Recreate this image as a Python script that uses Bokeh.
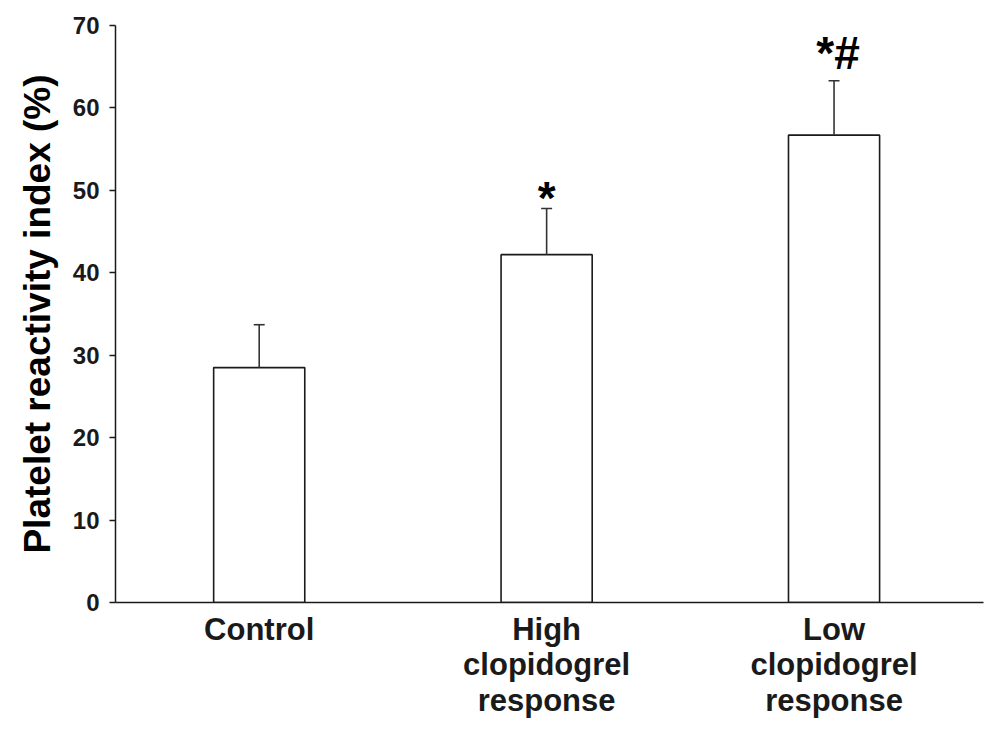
from bokeh.plotting import figure
from bokeh.models import FixedTicker, Range1d, ColumnDataSource
from bokeh.core.properties import value
from bokeh.embed import file_html
from bokeh.resources import INLINE

categories = ["Control", "High\nclopidogrel\nresponse", "Low\nclopidogrel\nresponse"]
means = [28.5, 42.2, 56.7]
sd_upper = [5.2, 5.6, 6.6]
marks = ["", "*", "*#"]
y_ticks = [0, 10, 20, 30, 40, 50, 60, 70]

xs = [1, 2, 3]
tops = [m + s for m, s in zip(means, sd_upper)]

FONT = "Liberation Sans"

p = figure(width=984, height=735, output_backend="svg", toolbar_location=None,
           x_range=Range1d(0.5, 3.52), y_range=Range1d(0, 70),
           min_border_left=115, min_border_top=25, min_border_right=1,
           min_border_bottom=133)
p.outline_line_color = None
p.grid.grid_line_color = None
p.background_fill_color = "white"

src = ColumnDataSource(dict(x=xs, top=means, etop=tops))
p.vbar(x="x", top="top", bottom=0, width=0.317, source=src,
       fill_color="white", line_color="#1a1a1a", line_width=1.6)
p.segment(x0="x", y0="top", x1="x", y1="etop", source=src,
          line_color="#333333", line_width=1.6)
p.scatter(x="x", y="etop", source=src, marker="dash", size=11,
          line_color="#333333", line_width=1.6)

# significance marks
p.text(x=[2], y=[tops[1]], text=[marks[1]], text_font=value(FONT),
       text_font_style="bold", text_font_size="46px", text_align="center",
       text_baseline="alphabetic", text_color="black", y_offset=-10)
p.text(x=[3], y=[tops[2]], text=[marks[2]], text_font=value(FONT),
       text_font_style="bold", text_font_size="46px", text_align="center",
       text_baseline="alphabetic", text_color="black", x_offset=4, y_offset=-28)

ya = p.yaxis[0]
ya.ticker = FixedTicker(ticks=y_ticks)
ya.minor_tick_line_color = None
ya.major_tick_in = 0
ya.major_tick_out = 6
ya.major_tick_line_width = 1.5
ya.axis_line_width = 1.5
ya.axis_line_color = "#1a1a1a"
ya.major_tick_line_color = "#1a1a1a"
ya.major_label_text_font = FONT
ya.major_label_text_font_style = "bold"
ya.major_label_text_font_size = "24px"
ya.major_label_text_color = "#1a1a1a"
ya.major_label_standoff = 10
ya.axis_label = "Platelet reactivity index (%)"
ya.axis_label_text_font = FONT
ya.axis_label_text_font_style = "bold"
ya.axis_label_text_font_size = "37px"
ya.axis_label_text_color = "black"
ya.axis_label_standoff = 12

xa = p.xaxis[0]
xa.ticker = FixedTicker(ticks=xs)
xa.major_label_overrides = {x: c for x, c in zip(xs, categories)}
xa.minor_tick_line_color = None
xa.major_tick_line_color = None
xa.axis_line_width = 1.5
xa.axis_line_color = "#1a1a1a"
xa.major_label_text_font = FONT
xa.major_label_text_font_style = "bold"
xa.major_label_text_font_size = "31px"
xa.major_label_text_color = "#1a1a1a"
xa.major_label_text_line_height = 1.02
xa.major_label_standoff = 3

open("out.html", "w").write(file_html(p, INLINE))
